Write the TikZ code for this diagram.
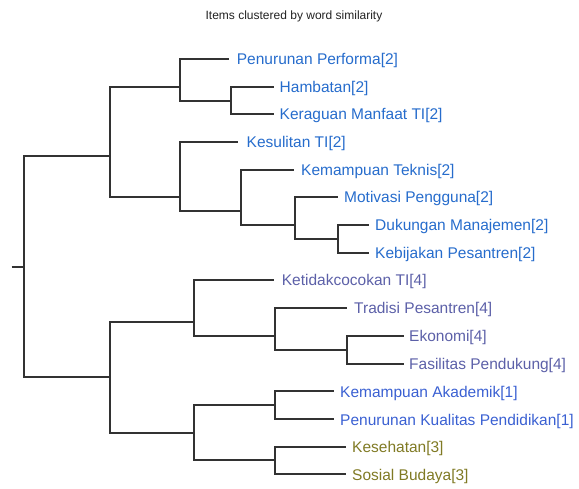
\documentclass[tikz,border=0pt]{standalone}
\usepackage{fontspec}
\setmainfont{Liberation Sans}
\definecolor{ctwo}{RGB}{38,108,204}
\definecolor{cone}{RGB}{58,96,210}
\definecolor{cfour}{RGB}{92,96,168}
\definecolor{cthree}{RGB}{128,122,36}
\definecolor{linegray}{RGB}{50,50,50}
\definecolor{titlegray}{RGB}{34,34,34}
\begin{document}
\begin{tikzpicture}[x=1pt,y=-1pt,
  link/.style={draw=linegray, line width=1.8pt},
  leaf/.style={anchor=base west, inner sep=0pt, font=\fontsize{15.5}{18}\selectfont},
  gtwo/.style={leaf, text=ctwo},
  gone/.style={leaf, text=cone},
  gfour/.style={leaf, text=cfour},
  gthree/.style={leaf, text=cthree}]
\useasboundingbox (0,0) rectangle (579,489);
\node[font=\fontsize{12}{14}\selectfont, text=titlegray, anchor=base] (title) at (294,20) {Items clustered by word similarity};
% labels
\node[gtwo] (t0) at (236.7,65) {Penurunan Performa[2]};
\node[gtwo] (t1) at (279.5,93) {Hambatan[2]};
\node[gtwo] (t2) at (279.5,120) {Keraguan Manfaat TI[2]};
\node[gtwo] (t3) at (246.5,148) {Kesulitan TI[2]};
\node[gtwo] (t4) at (301,176) {Kemampuan Teknis[2]};
\node[gtwo] (t5) at (344,203) {Motivasi Pengguna[2]};
\node[gtwo] (t6) at (375,231) {Dukungan Manajemen[2]};
\node[gtwo] (t7) at (375,259) {Kebijakan Pesantren[2]};
\node[gfour] (t8) at (281.7,286) {Ketidakcocokan TI[4]};
\node[gfour] (t9) at (354,314) {Tradisi Pesantren[4]};
\node[gfour] (t10) at (409,342) {Ekonomi[4]};
\node[gfour] (t11) at (409,370) {Fasilitas Pendukung[4]};
\node[gone] (t12) at (340,397) {Kemampuan Akademik[1]};
\node[gone] (t13) at (340,425) {Penurunan Kualitas Pendidikan[1]};
\node[gthree] (t14) at (352,453) {Kesehatan[3]};
\node[gthree] (t15) at (352,480) {Sosial Budaya[3]};
\begin{scope}[xshift=-0.5pt, yshift=0.5pt]
% leaf line ends
\coordinate (l0) at (229.5,59.5);
\coordinate (l1) at (274.5,87.5);
\coordinate (l2) at (274.5,114.5);
\coordinate (l3) at (238.5,142.5);
\coordinate (l4) at (294.5,170.5);
\coordinate (l5) at (338.5,197.5);
\coordinate (l6) at (369.5,225.5);
\coordinate (l7) at (369.5,253.5);
\coordinate (l8) at (274.5,280.5);
\coordinate (l9) at (347.5,308.5);
\coordinate (l10) at (404.5,336.5);
\coordinate (l11) at (404.5,364.5);
\coordinate (l12) at (334.5,391.5);
\coordinate (l13) at (334.5,419.5);
\coordinate (l14) at (346.5,447.5);
\coordinate (l15) at (346.5,474.5);
% junctions
\coordinate (stub) at (12,267.5);
\coordinate (root) at (24.5,267.5);
\coordinate (A) at (110.5,156.5);
\coordinate (B) at (110.5,377.5);
\coordinate (A1) at (180.5,87.5);
\coordinate (A2) at (180.5,197.5);
\coordinate (A1b) at (231.5,101.5);
\coordinate (A2s) at (241.5,211.5);
\coordinate (A2t) at (295.5,225.5);
\coordinate (A2u) at (338.5,239.5);
\coordinate (B1) at (194.5,322.5);
\coordinate (B2) at (194.5,433.5);
\coordinate (B1s) at (275.5,336.5);
\coordinate (B1t) at (347.5,350.5);
\coordinate (B2a) at (275.5,405.5);
\coordinate (B2b) at (275.5,460.5);
\end{scope}
% links
\draw[link] (stub) -- (root);
\draw[link] (root) |- (A);
\draw[link] (root) |- (B);
\draw[link] (A) |- (A1);
\draw[link] (A) |- (A2);
\draw[link] (A1) |- (l0);
\draw[link] (A1) |- (A1b);
\draw[link] (A1b) |- (l1);
\draw[link] (A1b) |- (l2);
\draw[link] (A2) |- (l3);
\draw[link] (A2) |- (A2s);
\draw[link] (A2s) |- (l4);
\draw[link] (A2s) |- (A2t);
\draw[link] (A2t) |- (l5);
\draw[link] (A2t) |- (A2u);
\draw[link] (A2u) |- (l6);
\draw[link] (A2u) |- (l7);
\draw[link] (B) |- (B1);
\draw[link] (B) |- (B2);
\draw[link] (B1) |- (l8);
\draw[link] (B1) |- (B1s);
\draw[link] (B1s) |- (l9);
\draw[link] (B1s) |- (B1t);
\draw[link] (B1t) |- (l10);
\draw[link] (B1t) |- (l11);
\draw[link] (B2) |- (B2a);
\draw[link] (B2) |- (B2b);
\draw[link] (B2a) |- (l12);
\draw[link] (B2a) |- (l13);
\draw[link] (B2b) |- (l14);
\draw[link] (B2b) |- (l15);
\end{tikzpicture}
\end{document}
